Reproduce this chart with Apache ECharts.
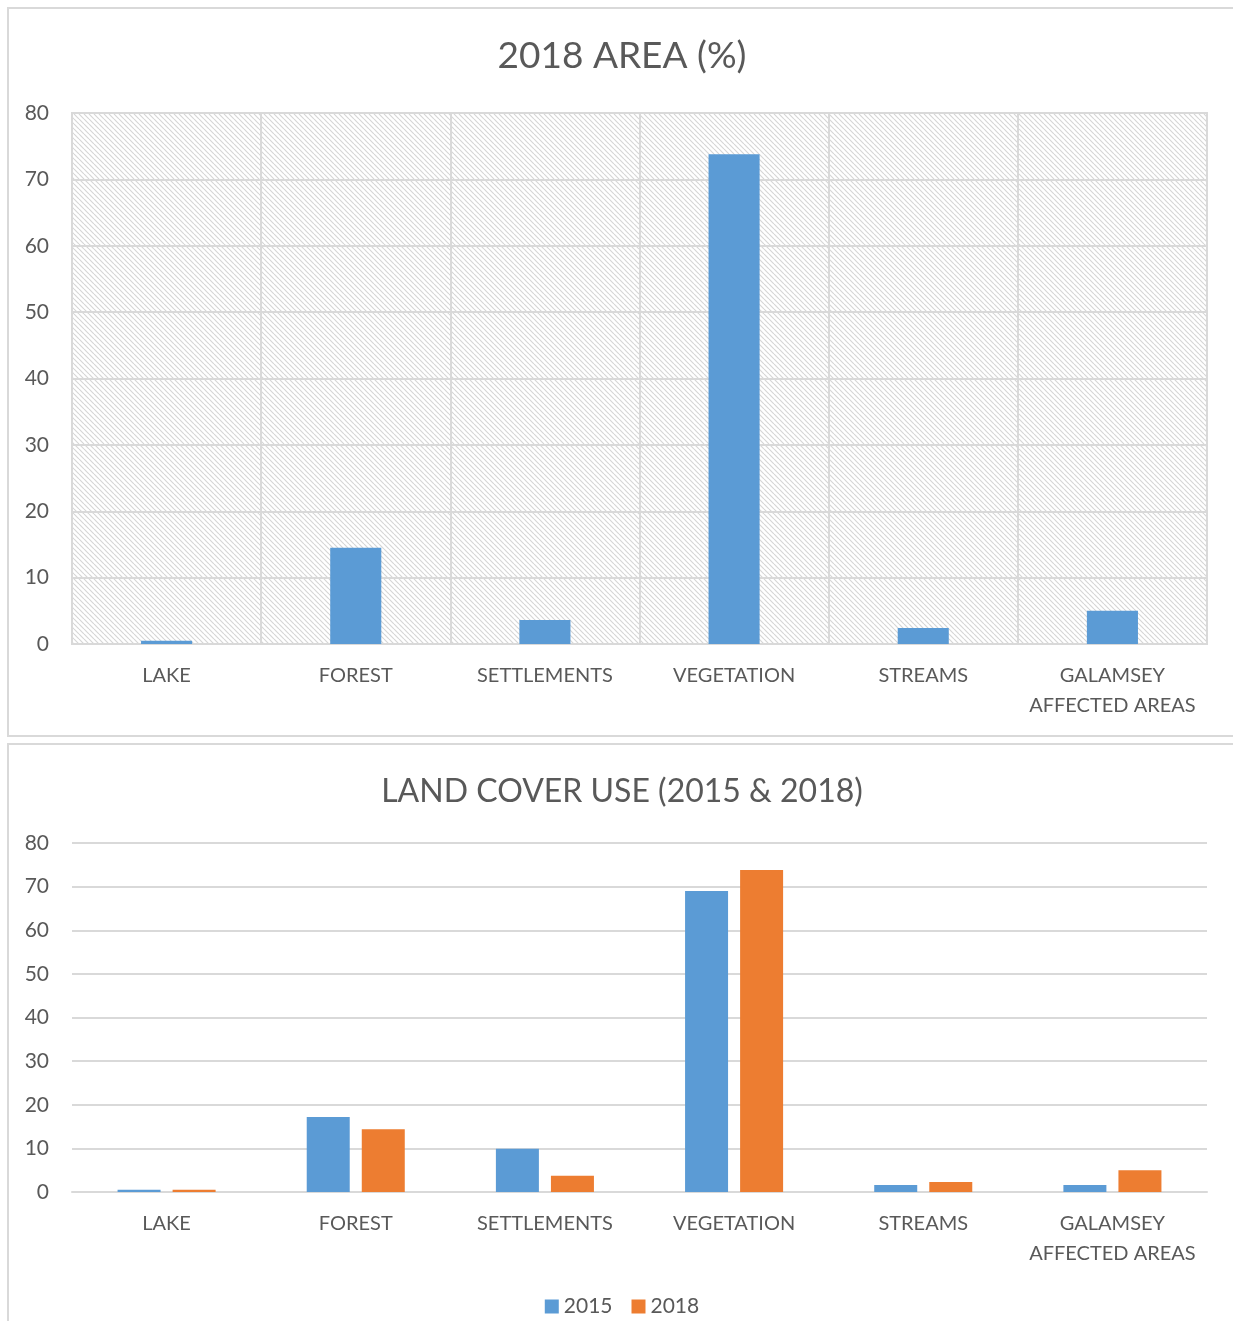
<!DOCTYPE html>
<html><head><meta charset="utf-8">
<script src="https://cdn.jsdelivr.net/npm/echarts@6/dist/echarts.min.js"></script>
<style>
html,body{margin:0;padding:0;background:#fff;width:1233px;height:1321px;overflow:hidden;}
#c1{position:absolute;left:7px;top:7px;width:1226px;height:726px;border:2px solid #d9d9d9;}
#c2{position:absolute;left:7px;top:743px;width:1226px;height:590px;border:2px solid #d9d9d9;}
</style></head><body>
<div id="c1"></div><div id="c2"></div>
<script>
const categories = ['LAKE','FOREST','SETTLEMENTS','VEGETATION','STREAMS','GALAMSEY\nAFFECTED AREAS'];
const area2018 = [0.5, 14.5, 3.6, 73.8, 2.4, 5.0];
const cover2015 = [0.5, 17.2, 9.9, 69.0, 1.6, 1.6];
const cover2018 = [0.5, 14.4, 3.7, 73.8, 2.3, 5.0];
const yTicks = [0, 10, 20, 30, 40, 50, 60, 70, 80];

const FONT = 'Lato';
const TXT = '#595959';
const GRIDC = '#d9d9d9';

function hatch(){
  const s = 5, cv = document.createElement('canvas');
  cv.width = s; cv.height = s;
  const ctx = cv.getContext('2d');
  ctx.fillStyle = '#fff'; ctx.fillRect(0,0,s,s);
  ctx.strokeStyle = '#d6d6d6'; ctx.lineWidth = 1.2;
  for (const k of [-s, 0, s]) { ctx.beginPath(); ctx.moveTo(k,0); ctx.lineTo(k+s,s); ctx.stroke(); }
  return {image: cv, repeat: 'repeat'};
}

const yAxisCommon = {
  type: 'value', min: yTicks[0], max: yTicks[yTicks.length-1], interval: 10,
  axisLine: {show:false}, axisTick: {show:false},
  axisLabel: {color: TXT, fontFamily: FONT, fontSize: 21, margin: 23},
  splitLine: {lineStyle: {color: GRIDC, width: 2}}
};
const xLabel = {color: TXT, fontFamily: FONT, fontSize: 20, margin: 17, lineHeight: 30, interval: 0};

const ch1 = echarts.init(document.getElementById('c1'));
ch1.setOption({
  animation: false,
  title: {text: '2018 AREA (%)', left: 'center', top: 24, textStyle: {color: TXT, fontFamily: FONT, fontSize: 37, fontWeight: 'normal'}},
  grid: {left: 63, top: 104, width: 1135, height: 531, show: true, backgroundColor: hatch(), borderColor: GRIDC, borderWidth: 2},
  xAxis: {type: 'category', data: categories,
    axisLine: {lineStyle: {color: GRIDC, width: 2}}, axisTick: {show:false},
    axisLabel: xLabel,
    splitLine: {show: true, lineStyle: {color: GRIDC, width: 2}}},
  yAxis: yAxisCommon,
  series: [{type: 'bar', data: area2018, barWidth: '27%', itemStyle: {color: '#5b9bd5'}}]
});

const ch2 = echarts.init(document.getElementById('c2'));
ch2.setOption({
  animation: false,
  title: {text: 'LAND COVER USE (2015 & 2018)', left: 'center', top: 26, textStyle: {color: TXT, fontFamily: FONT, fontSize: 32, fontWeight: 'normal'}},
  grid: {left: 63, top: 98, width: 1135, height: 349},
  legend: {top: 546, left: 'center', itemWidth: 14, itemHeight: 14, itemGap: 19, icon: 'rect',
    textStyle: {color: TXT, fontFamily: FONT, fontSize: 21}},
  xAxis: {type: 'category', data: categories,
    axisLine: {lineStyle: {color: GRIDC, width: 2}}, axisTick: {show:false},
    axisLabel: xLabel},
  yAxis: yAxisCommon,
  series: [
    {name: '2015', type: 'bar', data: cover2015, barWidth: 43, barGap: '28%', itemStyle: {color: '#5b9bd5'}},
    {name: '2018', type: 'bar', data: cover2018, barWidth: 43, itemStyle: {color: '#ed7d31'}}
  ]
});
</script></body></html>
